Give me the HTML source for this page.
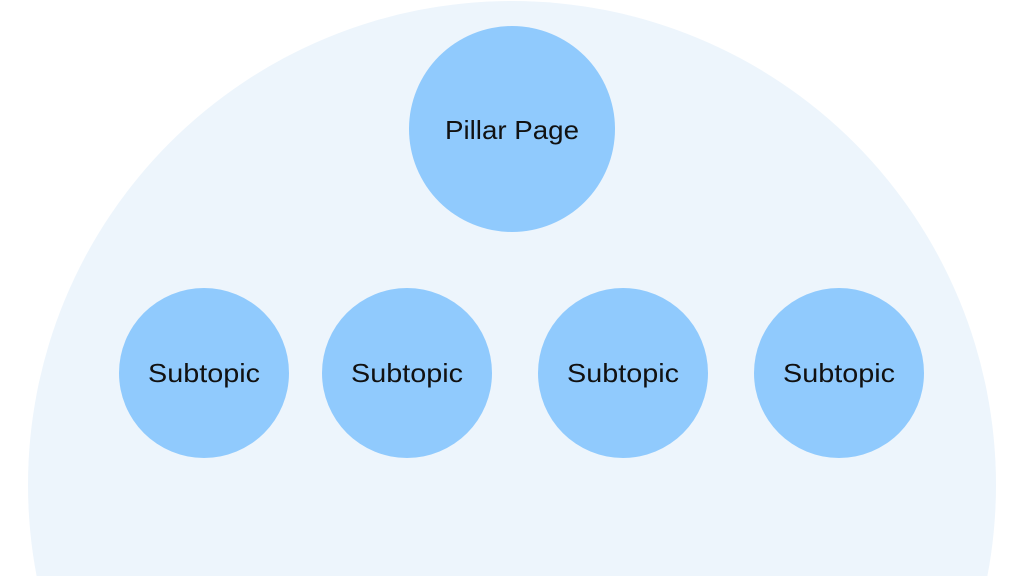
<!DOCTYPE html>
<html><head><style>
html,body{margin:0;padding:0;background:#fff;overflow:hidden;width:1024px;height:576px;}
svg{display:block}
text{font-family:"Liberation Sans",sans-serif;font-size:26px;fill:#111;}
</style></head><body>
<svg width="1024" height="576" viewBox="0 0 1024 576">
<circle cx="512" cy="485" r="484" fill="#EDF5FC"/>
<circle cx="512" cy="129" r="103" fill="#90CAFD"/>
<circle cx="204" cy="373" r="85" fill="#90CAFD"/>
<circle cx="407" cy="373" r="85" fill="#90CAFD"/>
<circle cx="623" cy="373" r="85" fill="#90CAFD"/>
<circle cx="839" cy="373" r="85" fill="#90CAFD"/>
<text x="445" y="139" textLength="134" lengthAdjust="spacingAndGlyphs">Pillar Page</text>
<text x="148" y="382" textLength="112" lengthAdjust="spacingAndGlyphs">Subtopic</text>
<text x="351" y="382" textLength="112" lengthAdjust="spacingAndGlyphs">Subtopic</text>
<text x="567" y="382" textLength="112" lengthAdjust="spacingAndGlyphs">Subtopic</text>
<text x="783" y="382" textLength="112" lengthAdjust="spacingAndGlyphs">Subtopic</text>
</svg>
</body></html>
